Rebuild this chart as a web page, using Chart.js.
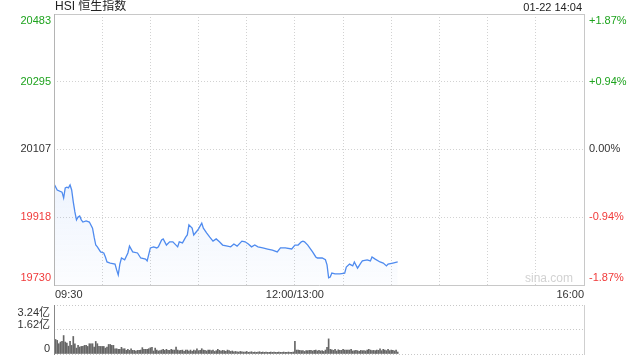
<!DOCTYPE html>
<html>
<head>
<meta charset="utf-8">
<script src="https://cdn.jsdelivr.net/npm/chart.js@4"></script>
<style>
html, body { margin: 0; padding: 0; background: #fff; }
#wrap { position: relative; width: 640px; height: 360px; }
canvas { position: absolute; left: 0; top: 0; }
</style>
</head>
<body>
<div id="wrap">
    <canvas id="fenshi" width="640" height="360"></canvas>
    <canvas id="liang" width="640" height="360"></canvas>
</div>
<script>
// minute index since 09:30 (lunch 12:00-13:00 removed, 330 = 16:00)
const minutes = [0,2,5,6,7,8,9,10,11,12,13,14,15,16,17,18,20,22,24,25,26,27,29,31,32,33,35,38,39,40,41,42,44,46,47,49,52,54,57,58,60,62,64,65,67,68,70,72,74,77,78,80,82,83,84,86,87,89,90,92,93,95,97,99,101,103,105,108,110,112,114,117,119,121,123,125,127,130,133,136,139,141,144,148,150,152,154,155,156,158,161,163,164,167,169,170,171,172,173,175,178,181,182,184,186,187,189,191,192,195,197,198,200,203,205,207,208,211,214];
const prices = [20011,19994,19988,19972,20000,20002,20000,20008,19994,19961,19933,19911,19919,19922,19911,19905,19908,19905,19888,19863,19841,19836,19822,19819,19808,19794,19791,19788,19772,19758,19788,19805,19800,19819,19838,19822,19819,19805,19802,19797,19833,19836,19833,19836,19855,19858,19841,19850,19850,19836,19850,19847,19863,19869,19897,19888,19869,19880,19886,19902,19888,19875,19863,19852,19858,19850,19841,19838,19836,19844,19838,19852,19850,19844,19836,19841,19836,19833,19830,19827,19822,19833,19833,19830,19841,19841,19850,19852,19850,19841,19822,19808,19805,19805,19800,19786,19750,19752,19763,19761,19761,19763,19780,19788,19783,19794,19777,19791,19797,19800,19797,19808,19802,19794,19791,19783,19788,19791,19794];

// volume per minute (亿), minute 0..214
const volumes = [
    1.22,0.96,0.90,0.68,0.79,0.83,1.22,0.79,0.72,0.52,0.83,0.57,1.16,0.68,0.39,0.57,
    0.46,0.50,0.50,0.57,0.57,0.50,0.68,0.68,0.68,0.46,0.83,0.68,0.50,0.50,0.50,
    0.50,0.39,0.46,0.63,0.63,0.57,0.57,0.35,0.35,0.31,0.31,0.44,0.35,0.35,0.24,
    0.31,0.24,0.35,0.24,0.24,0.20,0.24,0.24,0.26,0.42,0.31,0.31,0.31,0.35,0.41,
    0.44,0.20,0.39,0.26,0.20,0.22,0.26,0.31,0.24,0.31,0.24,0.24,0.31,0.26,0.26,
    0.46,0.26,0.22,0.24,0.26,0.17,0.26,0.26,0.20,0.26,0.17,0.26,0.22,0.35,0.22,
    0.24,0.35,0.26,0.24,0.20,0.26,0.26,0.22,0.26,0.17,0.22,0.31,0.24,0.20,0.24,
    0.22,0.17,0.26,0.22,0.17,0.20,0.15,0.17,0.15,0.13,0.17,0.15,0.13,0.13,0.17,
    0.11,0.13,0.15,0.11,0.13,0.11,0.13,0.15,0.11,0.13,0.11,0.13,0.11,0.11,0.13,
    0.11,0.13,0.11,0.11,0.13,0.11,0.11,0.13,0.11,0.11,0.13,0.11,0.11,0.13,
    0.83,
    0.26,0.26,0.24,0.22,0.22,0.17,0.22,0.22,0.24,0.24,0.20,0.24,0.26,0.20,0.24,
    0.20,0.22,0.17,0.26,0.44,
    1.00,
    0.31,0.28,0.24,0.31,0.20,0.28,0.24,0.24,0.31,0.26,0.26,0.26,0.26,0.31,0.20,
    0.22,0.24,0.22,0.17,0.24,0.22,0.22,0.20,0.26,0.31,0.26,0.22,0.24,0.22,0.26,
    0.24,0.35,0.22,0.31,0.26,0.22,0.31,0.22,0.26,0.24,0.20,0.26,0.13
];

const prevClose = 20107;
const priceTicks = [19730, 19918, 20107, 20295, 20483];
const pctLabels = ['-1.87%', '-0.94%', '0.00%', '+0.94%', '+1.87%'];
const volTicks = [0, 1.62, 3.24];
const volLabels = ['0', '1.62亿', '3.24亿'];
const timeTicks = [0, 150, 330];
const timeLabels = ['09:30', '12:00/13:00', '16:00'];
const gridMinutes = [0, 30, 60, 90, 120, 150, 180, 210, 240, 270, 300, 330];

const FONT = '"Liberation Sans", Arial, "Noto Sans CJK SC", sans-serif';
const GREEN = '#1ea31e';
const RED = '#f03a3a';

function priceColor(v) {
    if (v > prevClose) return GREEN;
    if (v < prevClose) return RED;
    return '#333';
}

// text, frame and watermark of the price panel
const fenshiText = {
    id: 'fenshiText',
    afterDraw(chart) {
        const ctx = chart.ctx;
        const a = chart.chartArea;
        const ys = chart.scales.y;
        const xs = chart.scales.x;
        ctx.save();

        // frame
        ctx.lineWidth = 1;
        ctx.strokeStyle = '#c8c8c8';
        ctx.beginPath();
        ctx.moveTo(Math.round(a.left), Math.round(a.top) + 0.5);
        ctx.lineTo(Math.round(a.right), Math.round(a.top) + 0.5);
        ctx.moveTo(Math.round(a.right) + 0.5, Math.round(a.top));
        ctx.lineTo(Math.round(a.right) + 0.5, Math.round(a.bottom));
        ctx.moveTo(Math.round(a.left), Math.round(a.bottom) + 0.5);
        ctx.lineTo(Math.round(a.right) + 1, Math.round(a.bottom) + 0.5);
        ctx.stroke();
        ctx.strokeStyle = '#b4b4b4';
        ctx.beginPath();
        ctx.moveTo(Math.round(a.left) + 0.5, Math.round(a.top));
        ctx.lineTo(Math.round(a.left) + 0.5, Math.round(a.bottom) + 1);
        ctx.stroke();

        // title + time
        ctx.textBaseline = 'middle';
        ctx.fillStyle = '#222';
        ctx.font = '12px ' + FONT;
        ctx.textAlign = 'left';
        ctx.fillText('HSI 恒生指数', a.left + 1, 7);
        ctx.font = '11px ' + FONT;
        ctx.textAlign = 'right';
        ctx.fillText('01-22 14:04', a.right - 2, 8);

        // y labels on both sides
        ctx.font = '11px ' + FONT;
        priceTicks.forEach((v, i) => {
            let y = ys.getPixelForValue(v);
            if (i === priceTicks.length - 1) y += 7;
            if (i === 0) y -= 7;
            ctx.fillStyle = priceColor(v);
            ctx.textAlign = 'right';
            ctx.fillText(String(v), a.left - 3, y);
            ctx.textAlign = 'left';
            ctx.fillText(pctLabels[i], a.right + 5, y);
        });

        // time labels
        ctx.fillStyle = '#333';
        timeTicks.forEach((m, i) => {
            const x = xs.getPixelForValue(m);
            ctx.textAlign = i === 0 ? 'left' : (i === timeTicks.length - 1 ? 'right' : 'center');
            ctx.fillText(timeLabels[i], i === 0 ? x + 1 : x, a.bottom + 10);
        });

        // watermark
        ctx.fillStyle = '#d2d2d2';
        ctx.font = '12px ' + FONT;
        ctx.textAlign = 'right';
        ctx.fillText('sina.com', a.right - 11, a.bottom - 6);
        ctx.restore();
    }
};

// labels and side lines of the volume panel
const liangText = {
    id: 'liangText',
    afterDraw(chart) {
        const ctx = chart.ctx;
        const a = chart.chartArea;
        const ys = chart.scales.y;
        ctx.save();
        ctx.lineWidth = 1;
        ctx.strokeStyle = '#888';
        ctx.beginPath();
        ctx.moveTo(Math.round(a.left) + 0.5, Math.round(a.top));
        ctx.lineTo(Math.round(a.left) + 0.5, Math.round(a.bottom) + 1);
        ctx.stroke();
        ctx.strokeStyle = '#cfcfcf';
        ctx.beginPath();
        ctx.moveTo(Math.round(a.right) + 0.5, Math.round(a.top));
        ctx.lineTo(Math.round(a.right) + 0.5, Math.round(a.bottom) + 1);
        ctx.stroke();

        ctx.font = '11px ' + FONT;
        ctx.fillStyle = '#333';
        ctx.textAlign = 'right';
        ctx.textBaseline = 'middle';
        volTicks.forEach((v, i) => {
            let y = ys.getPixelForValue(v);
            y += (i === volTicks.length - 1) ? 8 : -5;
            ctx.fillText(volLabels[i], a.left - 4, y);
        });
        ctx.restore();
    }
};

const dotted = { display: false, dash: [1, 2] };

new Chart(document.getElementById('fenshi'), {
    type: 'line',
    data: {
        datasets: [{
            data: minutes.map((m, i) => ({ x: m, y: prices[i] })),
            borderColor: '#4f8bef',
            borderWidth: 1.3,
            pointRadius: 0,
            tension: 0,
            fill: 'start',
            backgroundColor: function(c) {
                const area = c.chart.chartArea;
                if (!area) return 'rgba(79,139,239,0.08)';
                const g = c.chart.ctx.createLinearGradient(0, area.top + 160, 0, area.bottom);
                g.addColorStop(0, 'rgba(79,139,239,0.10)');
                g.addColorStop(1, 'rgba(79,139,239,0.02)');
                return g;
            }
        }]
    },
    options: {
        responsive: false,
        animation: false,
        events: [],
        layout: { padding: { left: 54, right: 56, top: 14, bottom: 75 } },
        plugins: { legend: { display: false }, tooltip: { enabled: false } },
        scales: {
            x: {
                type: 'linear', min: 0, max: 330,
                afterBuildTicks: s => { s.ticks = gridMinutes.map(v => ({ value: v })); },
                ticks: { display: false },
                grid: { color: '#d2d2d2', drawTicks: false },
                border: dotted
            },
            y: {
                min: priceTicks[0], max: priceTicks[priceTicks.length - 1],
                afterBuildTicks: s => { s.ticks = priceTicks.map(v => ({ value: v })); },
                ticks: { display: false },
                grid: { color: '#d2d2d2', drawTicks: false },
                border: dotted
            }
        }
    },
    plugins: [fenshiText]
});

new Chart(document.getElementById('liang'), {
    type: 'bar',
    data: {
        datasets: [{
            data: volumes.map((v, i) => ({ x: i, y: v })),
            backgroundColor: '#666',
            barThickness: 1
        }]
    },
    options: {
        responsive: false,
        animation: false,
        events: [],
        layout: { padding: { left: 54, right: 56, top: 305, bottom: 6 } },
        plugins: { legend: { display: false }, tooltip: { enabled: false } },
        scales: {
            x: {
                type: 'linear', min: 0, max: 330, offset: false,
                ticks: { display: false },
                grid: { display: false, drawTicks: false },
                border: { display: false }
            },
            y: {
                min: 0, max: volTicks[volTicks.length - 1],
                afterBuildTicks: s => { s.ticks = volTicks.map(v => ({ value: v })); },
                ticks: { display: false },
                grid: { color: '#c8c8c8', drawTicks: false },
                border: dotted
            }
        }
    },
    plugins: [liangText]
});
</script>
</body>
</html>
